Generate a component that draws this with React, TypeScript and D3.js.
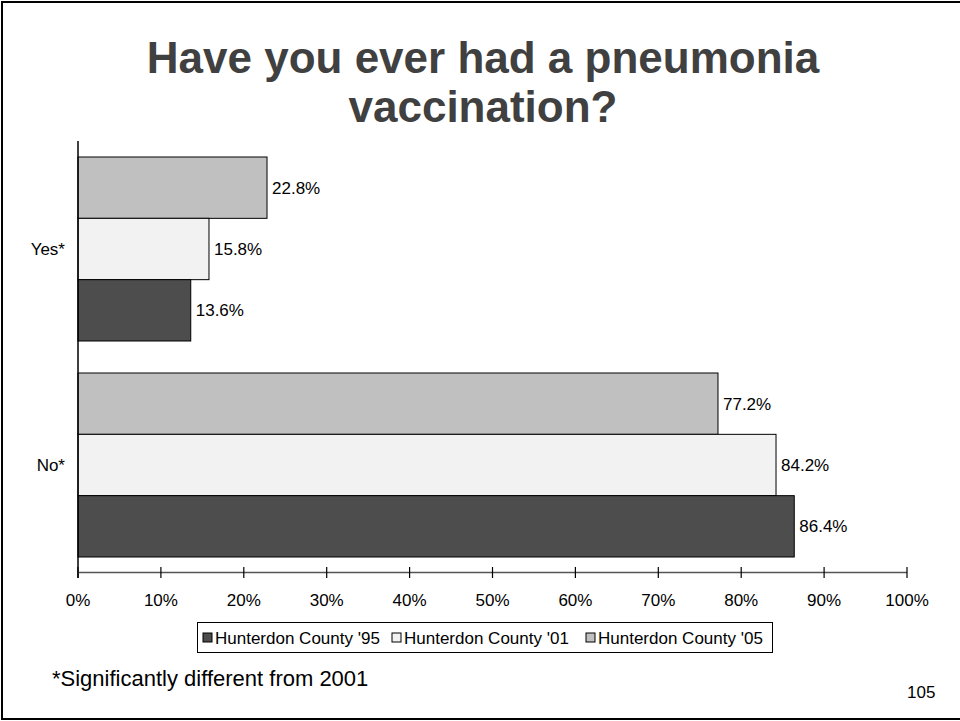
import React from "react";
import * as d3 from "d3";

const categories = ["Yes*", "No*"];
const seriesNames = ["Hunterdon County '05", "Hunterdon County '01", "Hunterdon County '95"];
const legendOrder = ["Hunterdon County '95", "Hunterdon County '01", "Hunterdon County '05"];
const values05 = [22.8, 77.2];
const values01 = [15.8, 84.2];
const values95 = [13.6, 86.4];
const xTicks = [0, 10, 20, 30, 40, 50, 60, 70, 80, 90, 100];
const seriesColors: Record<string, string> = {
  "Hunterdon County '95": "#4d4d4d",
  "Hunterdon County '01": "#f2f2f2",
  "Hunterdon County '05": "#c0c0c0",
};
const titleLines = ["Have you ever had a pneumonia", "vaccination?"];
const footnote = "*Significantly different from 2001";
const pageNumber = "105";

const valuesBySeries: Record<string, number[]> = {
  "Hunterdon County '05": values05,
  "Hunterdon County '01": values01,
  "Hunterdon County '95": values95,
};

export default function App() {
  const W = 960;
  const H = 721;
  const x = d3.scaleLinear().domain([0, 100]).range([78, 907]);
  const y0 = d3
    .scaleBand<string>()
    .domain(categories)
    .range([141, 573])
    .paddingInner(32 / 216)
    .paddingOuter(16 / 216);
  const y1 = d3.scaleBand<string>().domain(seriesNames).range([0, y0.bandwidth()]);
  const font = "Arial, 'Liberation Sans', sans-serif";
  const legendX = [203, 392, 586];

  return (
    <svg
      width={W}
      height={H}
      style={{ position: "absolute", left: 0, top: 0, background: "#fff" }}
      fontFamily={font}
    >
      <rect x={0} y={0} width={W} height={H} fill="#fff" />
      <rect x={2} y={2} width={W + 10} height={717} fill="none" stroke="#000" strokeWidth={2} />
      {titleLines.map((t, i) => (
        <text
          key={i}
          x={483}
          y={73 + i * 49}
          textAnchor="middle"
          fontSize={44}
          fontWeight="bold"
          fill="#404040"
        >
          {t}
        </text>
      ))}
      {categories.map((c, ci) => (
        <g key={c}>
          {seriesNames.map((s) => {
            const v = valuesBySeries[s][ci];
            const by = (y0(c) as number) + (y1(s) as number);
            return (
              <g key={s}>
                <rect
                  x={x(0)}
                  y={by}
                  width={x(v) - x(0)}
                  height={y1.bandwidth()}
                  fill={seriesColors[s]}
                  stroke="#000"
                  strokeWidth={1}
                />
                <text
                  x={x(v) + 5}
                  y={by + y1.bandwidth() / 2}
                  dy="0.35em"
                  fontSize={17}
                  fill="#000"
                >
                  {v.toFixed(1)}%
                </text>
              </g>
            );
          })}
          <text
            x={65}
            y={(y0(c) as number) + y0.bandwidth() / 2}
            dy="0.35em"
            textAnchor="end"
            fontSize={17}
            fill="#000"
          >
            {c}
          </text>
        </g>
      ))}
      <line x1={78} x2={78} y1={141} y2={578} stroke="#000" strokeWidth={1.5} />
      <line x1={x(0)} x2={x(100)} y1={572.5} y2={572.5} stroke="#555" strokeWidth={1.5} />
      {xTicks.map((t) => (
        <g key={t}>
          <line x1={x(t)} x2={x(t)} y1={567} y2={578} stroke="#000" strokeWidth={1.2} />
          <text x={x(t)} y={606} textAnchor="middle" fontSize={17} fill="#000">
            {t}%
          </text>
        </g>
      ))}
      <rect x={197.5} y={622.5} width={575} height={30} fill="#fff" stroke="#000" strokeWidth={1} />
      {legendOrder.map((s, i) => (
        <g key={s}>
          <rect x={legendX[i]} y={633} width={9} height={9} fill={seriesColors[s]} stroke="#000" strokeWidth={1} />
          <text x={legendX[i] + 12} y={644} fontSize={17} fill="#000">
            {s}
          </text>
        </g>
      ))}
      <text x={52} y={686} fontSize={22} fill="#000">
        {footnote}
      </text>
      <text x={907} y={698} fontSize={17} fill="#000">
        {pageNumber}
      </text>
    </svg>
  );
}
